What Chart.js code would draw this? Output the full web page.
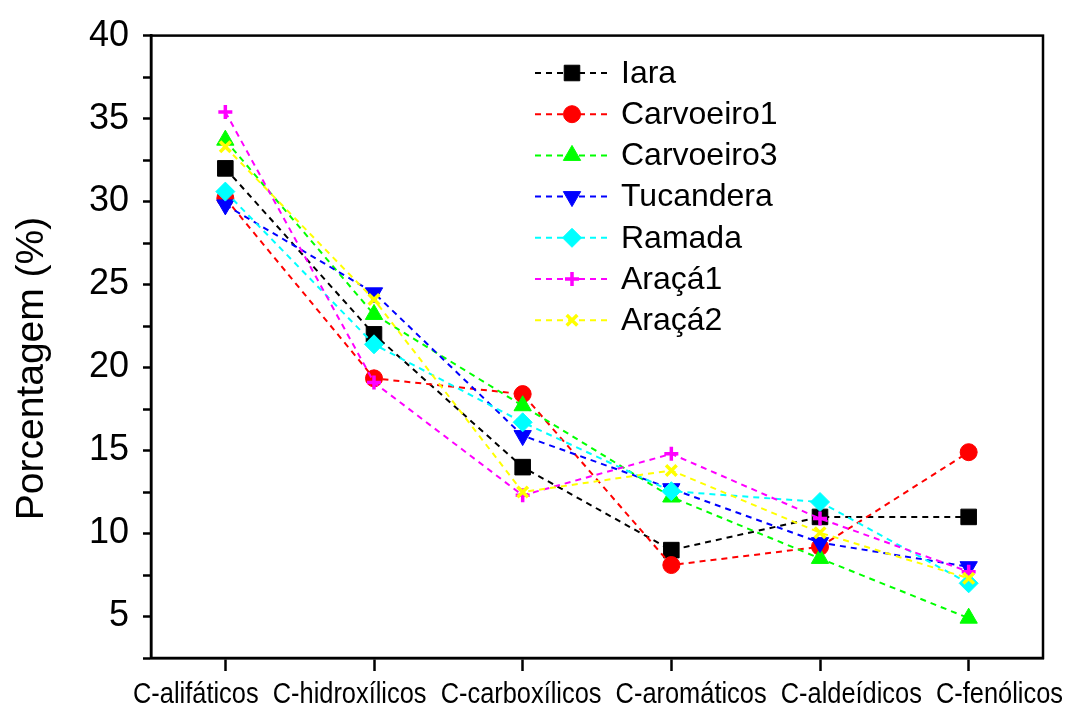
<!DOCTYPE html>
<html>
<head>
<meta charset="utf-8">
<script src="https://cdn.jsdelivr.net/npm/chart.js@4/dist/chart.umd.min.js"></script>
<style>
  body { margin: 0; background: #fff; }
  #wrap { width: 1068px; height: 711px; }
</style>
</head>
<body>
<div id="wrap"><canvas id="fracChart" width="1068" height="711"></canvas></div>
<script>
var categories = ["C-alifáticos", "C-hidroxílicos", "C-carboxílicos", "C-aromáticos", "C-aldeídicos", "C-fenólicos"];
var seriesNames = ["Iara", "Carvoeiro1", "Carvoeiro3", "Tucandera", "Ramada", "Araçá1", "Araçá2"];
var iara       = [32.0, 22.0, 14.0, 9.0, 11.0, 11.0];
var carvoeiro1 = [30.2, 19.35, 18.4, 8.1, 9.2, 14.9];
var carvoeiro3 = [33.7, 23.2, 17.7, 12.2, 8.5, 4.9];
var tucandera  = [29.8, 24.5, 15.9, 12.7, 9.45, 8.0];
var ramada     = [30.6, 21.4, 16.7, 12.55, 11.9, 7.0];
var araca1     = [35.4, 19.1, 12.3, 14.8, 10.9, 7.7];
var araca2     = [33.3, 24.1, 12.5, 13.8, 10.05, 7.3];
var yTicks = [5, 10, 15, 20, 25, 30, 35, 40];

var seriesValues = [iara, carvoeiro1, carvoeiro3, tucandera, ramada, araca1, araca2];
var colors = ["#000000", "#ff0000", "#00ff00", "#0000ff", "#00ffff", "#ff00ff", "#ffff00"];
var markers = ["rect", "circle", "triangle", "triangle", "rectRot", "cross", "crossRot"];
var markerSize = [11, 8.5, 10, 10, 9.5, 7, 7.5];
var markerRotation = [0, 0, 0, 180, 0, 0, 0];

var datasets = seriesNames.map(function (name, i) {
  var lineMarker = markers[i] === "cross" || markers[i] === "crossRot";
  return {
    label: name,
    data: seriesValues[i],
    borderColor: colors[i],
    backgroundColor: colors[i],
    borderWidth: 2,
    borderDash: [6, 5],
    pointStyle: markers[i],
    pointRadius: markerSize[i],
    pointRotation: markerRotation[i],
    pointBorderWidth: lineMarker ? 3.5 : 1,
    pointBackgroundColor: colors[i],
    pointBorderColor: colors[i],
    tension: 0,
    order: seriesNames.length - i,
  };
});

// box around the plot area, plus the category names set as one condensed line under the axis
var frame = {
  id: "frame",
  afterDraw: function (chart) {
    var a = chart.chartArea, ctx = chart.ctx;
    ctx.save();
    ctx.strokeStyle = "#000";
    ctx.lineWidth = 2.5;
    ctx.strokeRect(a.left, a.top, a.right - a.left, a.bottom - a.top);
    ctx.fillStyle = "#000";
    ctx.font = "30px 'Liberation Sans', Arial, sans-serif";
    ctx.textAlign = "center";
    ctx.textBaseline = "middle";
    ctx.fillText(categories.join("  "), 598, 695, 930);
    ctx.restore();
  },
};

// legend with a dashed line sample and the marker in its middle
var lineLegend = {
  id: "lineLegend",
  afterDraw: function (chart) {
    var ctx = chart.ctx;
    ctx.save();
    chart.data.datasets.forEach(function (ds, i) {
      var y = 73 + i * 41.2;
      ctx.strokeStyle = ds.borderColor;
      ctx.lineWidth = 2;
      ctx.setLineDash([6, 5]);
      ctx.beginPath();
      ctx.moveTo(535, y);
      ctx.lineTo(610, y);
      ctx.stroke();
      ctx.setLineDash([]);
      var opts = chart.getDatasetMeta(i).data[0].options;
      ctx.fillStyle = opts.backgroundColor;
      ctx.strokeStyle = opts.borderColor;
      ctx.lineWidth = opts.borderWidth;
      Chart.helpers.drawPoint(ctx, opts, 572, y);
      ctx.fillStyle = "#000";
      ctx.font = "32px 'Liberation Sans', Arial, sans-serif";
      ctx.textBaseline = "middle";
      ctx.fillText(ds.label, 621, y + 1);
    });
    ctx.restore();
  },
};

new Chart("fracChart", {
  type: "line",
  data: { labels: categories, datasets: datasets },
  options: {
    responsive: false,
    animation: false,
    layout: { padding: { top: 32, right: 25, left: 0, bottom: 0 } },
    plugins: {
      legend: { display: false },
      tooltip: { enabled: false },
    },
    scales: {
      x: {
        offset: true,
        grid: {
          offset: false,
          drawOnChartArea: false,
          drawTicks: true,
          tickLength: 13,
          tickWidth: 2.5,
          tickColor: "#000",
        },
        border: { display: true, color: "#000", width: 2.5 },
        ticks: { display: false },
        afterFit: function (scale) { scale.height = 53; },
      },
      y: {
        min: 2.5,
        max: 40,
        grid: {
          drawOnChartArea: false,
          drawTicks: true,
          tickLength: 8,
          tickWidth: 2.5,
          tickColor: "#000",
        },
        border: { display: true, color: "#000", width: 2.5 },
        ticks: {
          stepSize: 2.5,
          autoSkip: false,
          color: "#000",
          padding: 14,
          font: { family: "'Liberation Sans', Arial, sans-serif", size: 36 },
          callback: function (v) { return yTicks.indexOf(v) >= 0 ? String(v) : ""; },
        },
        title: {
          display: true,
          text: "Porcentagem (%)    ",
          color: "#000",
          padding: { top: 9, bottom: 0 },
          font: { family: "'Liberation Sans', Arial, sans-serif", size: 39 },
        },
        afterFit: function (scale) { scale.width = 151; },
      },
    },
  },
  plugins: [frame, lineLegend],
});
</script>
</body>
</html>
